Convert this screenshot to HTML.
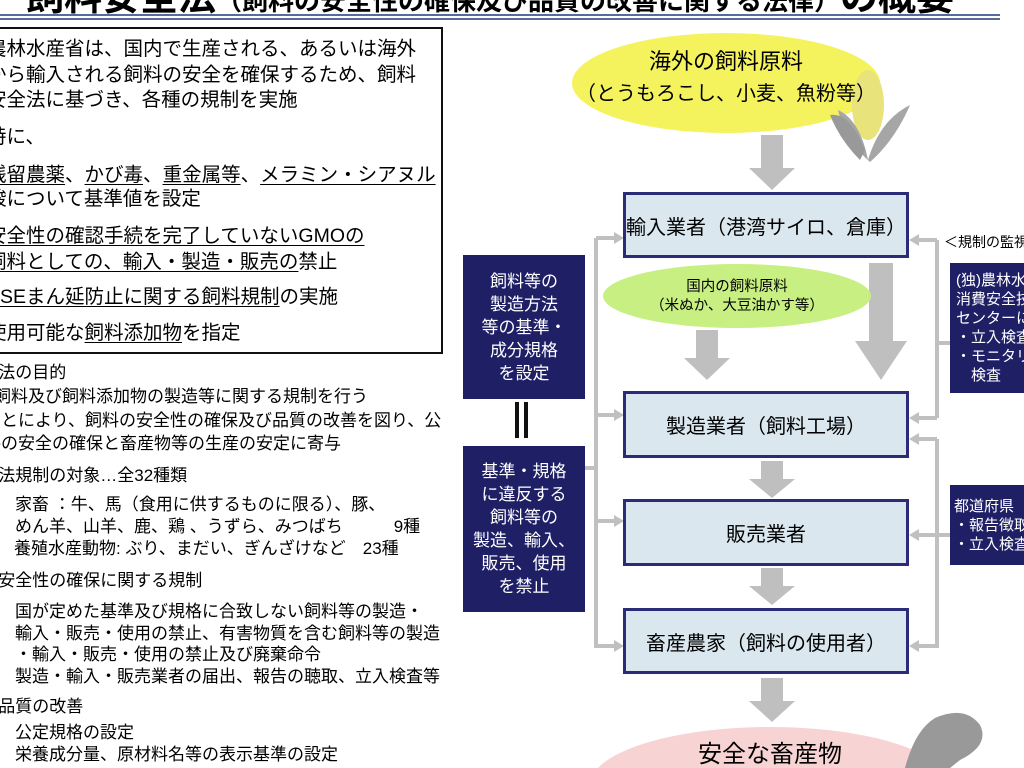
<!DOCTYPE html>
<html style="width:1024px;height:768px;overflow:hidden"><head><meta charset="utf-8">
<style>
*{margin:0;padding:0;box-sizing:border-box}
body{width:1024px;height:768px;position:relative;overflow:hidden;background:#fff;font-family:"Liberation Sans","Noto Sans CJK JP",sans-serif;color:#000}
.a{position:absolute;white-space:nowrap}
.u{text-decoration:underline;text-underline-offset:3px}
.box{position:absolute;background:#dae7ef;border:3px solid #2b2b78;display:flex;align-items:center;justify-content:center;font-size:20px}
.nv{position:absolute;background:#1f1f66;color:#fff;font-size:17px;line-height:23px;text-align:center;display:flex;align-items:center;justify-content:center}
.l{font-size:19.5px;line-height:24px}
.s{font-size:17px;line-height:20px}
</style></head><body>
<div class="a" style="left:26px;top:-22px;font-size:38px;font-weight:bold;line-height:40px">飼料安全法<span style="font-size:26px;font-weight:bold">（飼料の安全性の確保及び品質の改善に関する法律）</span>の概要</div>
<div class="a" style="left:0;top:14px;width:1000px;height:2px;background:#5a6a9a"></div>
<div class="a" style="left:0;top:18px;width:1000px;height:2px;background:#5a6a9a"></div>

<div class="a" style="left:-4px;top:27px;width:447px;height:327px;border:2px solid #111"></div>
<div class="a l" style="left:-13px;top:37px">農林水産省は、国内で生産される、あるいは海外</div>
<div class="a l" style="left:-13px;top:63px">から輸入される飼料の安全を確保するため、飼料</div>
<div class="a l" style="left:-13px;top:88px">安全法に基づき、各種の規制を実施</div>
<div class="a l" style="left:-13px;top:125px">特に、</div>
<div class="a l" style="left:-13px;top:163px"><span class="u">残留農薬</span>、<span class="u">かび毒</span>、<span class="u">重金属等</span>、<span class="u">メラミン・シアヌル</span></div>
<div class="a l" style="left:-13px;top:187px">酸について基準値を設定</div>
<div class="a l" style="left:-13px;top:224px"><span class="u">安全性の確認手続を完了していないGMOの</span></div>
<div class="a l" style="left:-13px;top:250px"><span class="u">飼料としての、輸入・製造・販売の</span>禁止</div>
<div class="a l" style="left:-13px;top:285px"><span class="u">BSEまん延防止に関する飼料規制</span>の実施</div>
<div class="a l" style="left:-13px;top:321px">使用可能な<span class="u">飼料添加物</span>を指定</div>

<div class="a s" style="left:-12px;top:363px">○法の目的</div>
<div class="a s" style="left:-6px;top:387px">飼料及び飼料添加物の製造等に関する規制を行う</div>
<div class="a s" style="left:-16px;top:411px">ことにより、飼料の安全性の確保及び品質の改善を図り、公</div>
<div class="a s" style="left:-16px;top:434px">共の安全の確保と畜産物等の生産の安定に寄与</div>
<div class="a s" style="left:-12px;top:466px">○法規制の対象…全32種類</div>
<div class="a s" style="left:15px;top:495px">家畜 ：牛、馬（食用に供するものに限る）、豚、</div>
<div class="a s" style="left:15px;top:517px">めん羊、山羊、鹿、鶏 、うずら、みつばち　　　9種</div>
<div class="a s" style="left:14px;top:539px">養殖水産動物: ぶり、まだい、ぎんざけなど　23種</div>
<div class="a s" style="left:-12px;top:571px">○安全性の確保に関する規制</div>
<div class="a s" style="left:15px;top:602px">国が定めた基準及び規格に合致しない飼料等の製造・</div>
<div class="a s" style="left:15px;top:624px">輸入・販売・使用の禁止、有害物質を含む飼料等の製造</div>
<div class="a s" style="left:15px;top:645px">・輸入・販売・使用の禁止及び廃棄命令</div>
<div class="a s" style="left:15px;top:667px">製造・輸入・販売業者の届出、報告の聴取、立入検査等</div>
<div class="a s" style="left:-12px;top:697px">○品質の改善</div>
<div class="a s" style="left:15px;top:723px">公定規格の設定</div>
<div class="a s" style="left:15px;top:745px">栄養成分量、原材料名等の表示基準の設定</div>

<svg class="a" style="left:0;top:0" width="1024" height="768">
<g fill="#bfbfbf">
<rect x="761" y="135" width="22" height="35"/><polygon points="749,168 795,168 772,190"/>
<rect x="696" y="330" width="22" height="30"/><polygon points="684,358 730,358 707,380"/>
<rect x="869" y="263" width="24" height="80"/><polygon points="855,341 907,341 881,380"/>
<rect x="761" y="461" width="22" height="20"/><polygon points="749,479 795,479 772,498"/>
<rect x="761" y="568" width="22" height="20"/><polygon points="749,586 795,586 772,605"/>
<rect x="761" y="678" width="22" height="25"/><polygon points="749,701 795,701 772,722"/>
</g>
<g stroke="#c0c0c0" stroke-width="4" fill="none">
<path d="M596,238 V648"/><path d="M596,238 H618"/><path d="M596,415 H618"/><path d="M596,521 H618"/><path d="M596,646 H618"/><path d="M585,468 H596"/>
<path d="M937,240 V418 M937,240 H916 M937,418 H916 M937,343 H950"/>
<path d="M937,439 V648 M937,439 H916 M937,535 H916 M937,646 H916 M937,535 H950"/>
</g>
<g fill="#c0c0c0">
<polygon points="624,238 614,232 614,244"/><polygon points="624,415 614,409 614,421"/><polygon points="624,521 614,515 614,527"/><polygon points="624,646 614,640 614,652"/>
<polygon points="909,240 919,234 919,246"/><polygon points="909,418 919,412 919,424"/><polygon points="909,439 919,433 919,445"/><polygon points="909,535 919,529 919,541"/><polygon points="909,646 919,640 919,652"/>
</g>
<ellipse cx="726" cy="83" rx="154" ry="50" fill="#f4f35e"/>
<ellipse cx="737" cy="296" rx="134" ry="32" fill="#c7ef82"/>
<ellipse cx="770" cy="785" rx="180" ry="58" fill="#f8d3d3"/>
<ellipse cx="868" cy="105" rx="16" ry="35" fill="#e8e37a"/>
<path d="M838,110 Q860,120 868,160 Q880,120 910,105 Q895,140 870,162 Q845,140 838,110Z" fill="#a6a6a6"/>
<path d="M830,115 Q850,112 865,150 L860,160 Q840,140 830,115Z" fill="#999"/>
<path d="M905,768 Q915,730 935,718 Q965,705 980,725 Q990,745 960,760 L950,768Z" fill="#999"/>
</svg>

<div class="a" style="left:576px;top:46px;width:300px;text-align:center;font-size:20px;line-height:31px"><span style="font-size:22px">海外の飼料原料</span><br>（とうもろこし、小麦、魚粉等）</div>
<div class="a" style="left:603px;top:278px;width:268px;text-align:center;font-size:14.5px;line-height:19px">国内の飼料原料<br>（米ぬか、大豆油かす等）</div>
<div class="a" style="left:590px;top:742px;width:360px;text-align:center;font-size:24px;line-height:26px">安全な畜産物</div>

<div class="box" style="left:623px;top:192px;width:286px;height:66px">輸入業者（港湾サイロ、倉庫）</div>
<div class="box" style="left:623px;top:391px;width:286px;height:67px">製造業者（飼料工場）</div>
<div class="box" style="left:623px;top:499px;width:286px;height:67px">販売業者</div>
<div class="box" style="left:623px;top:608px;width:286px;height:66px">畜産農家（飼料の使用者）</div>

<div class="nv" style="left:463px;top:255px;width:122px;height:144px">飼料等の<br>製造方法<br>等の基準・<br>成分規格<br>を設定</div>
<div class="a" style="left:515px;top:402px;width:4px;height:36px;background:#111"></div>
<div class="a" style="left:524px;top:402px;width:4px;height:36px;background:#111"></div>
<div class="nv" style="left:463px;top:446px;width:122px;height:166px">基準・規格<br>に違反する<br>飼料等の<br>製造、輸入、<br>販売、使用<br>を禁止</div>

<div class="a" style="left:944px;top:232px;font-size:14px">＜規制の監視</div>
<div class="a" style="left:950px;top:263px;width:74px;height:130px;background:#1f1f66;color:#fff;font-size:15px;line-height:19px;padding:8px 0 0 6px;overflow:hidden">(独)農林水産<br>消費安全技術<br>センターによる<br>・立入検査<br>・モニタリング<br>　検査</div>
<div class="a" style="left:950px;top:485px;width:74px;height:80px;background:#1f1f66;color:#fff;font-size:15px;line-height:19px;padding:12px 0 0 4px;overflow:hidden">都道府県<br>・報告徴取<br>・立入検査</div>
</body></html>
